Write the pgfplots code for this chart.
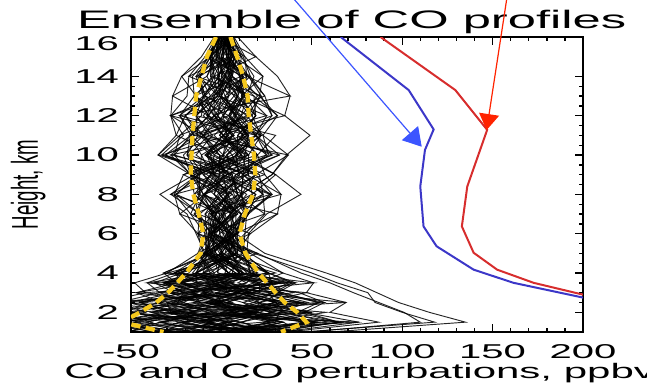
\documentclass[border=0pt]{standalone}
\usepackage{pgfplots}
\pgfplotsset{compat=1.18}
\usepackage{pgfplotstable}
\usetikzlibrary{arrows.meta}
\usepackage{fontspec}
\setmainfont{Liberation Sans}[FakeStretch=2.0]
\newfontfamily\plainsans{Liberation Sans}
\definecolor{ygold}{RGB}{245,200,30}
\definecolor{curvered}{RGB}{215,45,45}
\definecolor{curveblue}{RGB}{60,55,200}
\definecolor{arrblue}{RGB}{60,85,255}
\definecolor{arrred}{RGB}{255,35,0}

\pgfplotstableread{
h p1 p2 p3 p4 p5 p6 p7 p8 p9 p10 p11 p12 p13 p14 p15 p16 p17 p18 p19 p20 p21 p22 p23 p24 p25 p26 p27 p28 p29 p30 p31 p32 p33 p34 p35 p36 p37 p38 p39 p40
1 15 -24 15 30 -21 12 -15 48 6 -36 9 21 -18 -15 21 36 -24 18 -15 24 -51 15 27 -9 60 -12 30 -42 3 -6 39 -33 45 12 -30 9 3 33 -39 0
1.5 0 -61 46 65 -4 -11 -49 110 34 -72 -15 53 4 -42 4 87 -53 49 4 4 -38 -8 65 -34 135 11 11 -84 30 -34 23 -19 118 -8 -61 34 -23 76 -23 27
2 21 -28 14 42 -28 18 -21 101 7 -42 14 28 -25 -14 28 60 -25 21 -18 28 -60 18 32 -7 115 -18 35 -53 4 -4 49 -39 100 18 -32 7 7 46 -49 0
2.5 -3 -45 33 54 0 -6 -36 87 30 -57 -9 45 0 -30 3 69 -45 36 3 3 -33 -3 48 -27 98 6 12 -66 21 -24 21 -12 85 -9 -51 30 -15 57 -21 18
3 16 -21 13 29 -18 10 -13 73 8 -34 8 18 -16 -8 18 47 -21 13 -16 21 -47 16 26 -8 86 -10 29 -42 3 -5 34 -29 81 10 -26 8 3 31 -34 -3
3.5 0 -32 28 39 -2 -7 -30 60 21 -41 -9 32 2 -23 0 51 -32 28 5 5 -25 -5 37 -23 74 7 9 -48 18 -21 18 -12 64 -5 -37 21 -14 41 -14 14
4 14 -18 6 26 -16 12 -14 44 4 -26 8 16 -14 -4 12 34 -14 12 -14 18 -32 10 16 -10 58 -10 20 -30 -2 -6 26 -24 50 10 -22 4 4 26 -26 2
5 5 -8 9 12 -7 -3 -7 20 -6 2 -8 12 0 -13 5 16 8 -1 7 -10 -5 6 1 8 24 -8 7 -13 -4 8 -5 4 18 0 -9 14 -9 12 -9 5
6 2 -1 9 5 -7 -6 9 -4 -8 13 6 -4 7 -9 3 -6 16 -7 4 -13 8 5 -7 4 8 -5 -6 6 3 6 -13 9 -4 1 -5 15 -14 7 -3 -1
7 -9 14 11 2 0 -12 13 -3 -13 24 -6 9 15 -17 -3 1 31 -7 7 -23 11 -5 -5 14 8 -15 5 5 0 15 -12 14 -5 -4 1 25 -19 6 5 -1
8 -2 7 23 -9 11 -25 6 9 -10 23 3 1 11 -12 -15 9 33 -1 19 -26 3 4 -13 27 -1 -9 -4 17 -10 28 -28 11 4 -15 12 44 -34 -4 14 -10
9 8 4 9 -1 12 -13 -8 5 3 21 -4 10 28 -12 -17 6 24 12 1 -21 19 -6 -6 -4 14 -4 -1 15 -17 19 -13 12 -10 3 -17 30 -15 1 -4 5
10 25 -9 -26 8 20 11 -31 -8 32 -6 -6 8 36 9 -21 3 -1 26 -14 6 37 -11 1 -33 20 3 -1 15 -28 -4 15 -8 -18 28 -35 11 9 1 -19 13
11 12 1 -23 15 9 3 -17 1 19 7 -17 19 49 1 -10 14 -10 23 -5 -4 23 -18 12 -21 11 12 -12 22 -15 6 6 4 -7 19 -25 -1 22 -10 -13 15
12 19 -10 -11 4 19 11 -23 -8 25 -4 -7 8 35 10 -20 5 1 14 -14 7 31 -7 4 -28 19 1 -4 11 -23 -2 16 -4 -14 28 -28 8 17 -2 -20 4
13 9 -1 -10 12 18 0 -15 4 14 4 -14 14 38 0 -9 13 -5 22 -2 2 21 -15 12 -19 8 9 -10 20 -10 7 7 -4 -2 24 -27 -1 11 -9 -6 9
14 14 -6 -12 12 6 6 -16 -2 18 6 -5 4 31 5 -13 4 2 15 -8 -2 23 -4 3 -18 12 0 -1 10 -14 -2 11 5 -4 16 -22 6 14 1 -12 2
15 7 1 -6 4 9 0 -7 3 11 -1 -6 9 19 0 -6 7 -3 8 -2 6 13 -6 5 -9 4 5 -3 11 -7 4 3 1 -5 12 -11 3 6 -2 -4 6
16 6 1 -2 5 4 3 -3 2 5 0 -2 3 9 3 -1 2 -1 7 0 3 7 -3 4 -3 4 1 -1 6 -2 3 2 2 -2 6 -4 1 4 -1 -1 4
}\prof

\pgfplotstableread{
h q1 q2 q3 q4 q5 q6 q7 q8 q9 q10 q11 q12 q13 q14 q15 q16 q17 q18 q19 q20 q21 q22 q23 q24 q25 q26 q27 q28 q29 q30
1 -51 15 27 -9 60 -12 30 -42 3 -6 39 -33 45 12 -30 9 3 33 -39 0 15 -24 15 30 -21 12 -15 48 6 -36
1.5 -34 68 11 11 -84 30 -34 23 -19 59 -8 -61 34 -23 76 -23 27 0 -61 46 65 -4 -11 -49 55 34 -72 -15 53 4
2 21 -18 28 -60 18 32 -7 58 -18 35 -53 4 -4 49 -39 50 18 -32 7 7 46 -49 0 21 -28 14 42 -28 18 -21
2.5 12 -66 21 -24 21 -12 43 -9 -51 30 -15 57 -21 18 -3 -45 33 54 0 -6 -36 44 30 -57 -9 45 0 -30 3 69
3 -8 18 47 -21 13 -16 21 -47 16 26 -8 43 -10 29 -42 3 -5 34 -29 40 10 -26 8 3 31 -34 -3 16 -21 13
3.5 -21 18 -12 35 -5 -37 21 -14 41 -14 14 0 -32 28 39 -2 -7 -30 33 21 -41 -9 32 2 -23 0 51 -32 28 5
4 -26 8 16 -14 -4 12 34 -14 12 -14 18 -32 10 16 -10 30 -10 20 -30 -2 -6 26 -24 25 10 -22 4 4 26 -26
5 0 -9 14 -9 12 -9 5 5 -8 9 12 -7 -3 -7 20 -6 2 -8 12 0 -13 5 16 8 -1 7 -10 -5 6 1
6 -6 9 -4 -8 13 6 -4 7 -9 3 -6 16 -7 4 -13 8 5 -7 4 8 -5 -6 6 3 6 -13 9 -4 1 -5
7 6 5 -1 -9 14 11 2 0 -12 13 -3 -13 24 -6 9 15 -17 -3 1 31 -7 7 -23 11 -5 -5 14 8 -15 5
8 -9 11 -25 6 9 -10 23 3 1 11 -12 -15 9 33 -1 19 -26 3 4 -13 27 -1 -9 -4 17 -10 28 -28 11 4
9 10 28 -12 -17 6 24 12 1 -21 19 -6 -6 -4 14 -4 -1 15 -17 19 -13 12 -10 3 -17 30 -15 1 -4 5 8
10 6 37 -11 1 -33 20 3 -1 15 -28 -4 15 -8 -18 28 -35 11 9 1 -19 13 25 -9 -26 8 20 11 -31 -8 32
11 22 -15 6 6 4 -7 19 -25 -1 22 -10 -13 15 12 1 -23 15 9 3 -17 1 19 7 -17 19 30 1 -10 14 -10
12 -8 25 -4 -7 8 35 10 -20 5 1 14 -14 7 31 -7 4 -28 19 1 -4 11 -23 -2 16 -4 -14 28 -28 8 17
13 -4 -2 24 -27 -1 11 -9 -6 9 9 -1 -10 12 18 0 -15 4 14 4 -14 14 38 0 -9 13 -5 22 -2 2 21
14 4 2 15 -8 -2 23 -4 3 -18 12 0 -1 10 -14 -2 11 5 -4 16 -22 6 14 1 -12 2 14 -6 -12 12 6
15 3 6 -2 -4 6 7 1 -6 4 9 0 -7 3 11 -1 -6 9 19 0 -6 7 -3 8 -2 6 13 -6 5 -9 4
16 -3 4 -3 4 1 -1 6 -2 3 2 2 -2 6 -4 1 4 -1 -1 4 6 1 -2 5 4 3 -3 2 5 0 -2
}\proftwo

\begin{document}
\begin{tikzpicture}
\path[use as bounding box] (-98.25pt,-40.5pt) rectangle (387pt,249pt);
\node[anchor=base west, text={rgb,255:red,110;green,120;blue,245}, font=\fontsize{19}{19}\selectfont, inner sep=0pt] at (-82pt,250pt) {Reference};
\begin{axis}[
  at={(0pt,0pt)}, anchor=south west,
  scale only axis, width=339pt, height=221.25pt,
  xmin=-50, xmax=200, ymin=1, ymax=16,
  xtick={-50,0,50,100,150,200}, ytick={2,4,6,8,10,12,14},
  extra y ticks={16},
  extra y tick style={yticklabel style={yshift=-5pt}},
  minor x tick num=4, minor y tick num=3,
  tick align=inside, xtick pos=both, ytick pos=both,
  major tick length=6pt, minor tick length=3pt,
  axis line style={line width=2pt},
  every tick/.style={black, line width=1pt},
  /pgf/number format/assume math mode=true,
  tick label style={font=\fontsize{15}{15}\selectfont},
  xticklabel style={anchor=base, yshift=-19.5pt},
  yticklabel style={anchor=east, xshift=-5.5pt},
  title={Ensemble of CO profiles},
  title style={font=\fontsize{19}{19}\selectfont, at={(rel axis cs:0.5,1)}, anchor=base, yshift=0.75pt, xshift=-4pt, inner sep=0pt},
  xlabel={CO and CO perturbations, ppbv},
  xlabel style={font=\fontsize{15.75}{15.75}\selectfont, at={(rel axis cs:0.5,0)}, anchor=base, yshift=-34.5pt, xshift=2pt, inner sep=0pt},
  ylabel={\plainsans\fontsize{14}{14}\selectfont\scalebox{1}[2.0]{Height, km}},
  ylabel style={at={(rel axis cs:0,0.5)}, anchor=center, yshift=77pt},
]
\pgfplotsinvokeforeach{1,...,40}{
  \addplot[black, line width=0.7pt, opacity=0.85] table[x=p#1, y=h]{\prof};
}
\pgfplotsinvokeforeach{1,...,30}{
  \addplot[black, line width=0.7pt, opacity=0.85] table[x=q#1, y=h]{\proftwo};
}
% yellow envelope (mean +/- std)
\addplot[ygold, line width=3.2pt, dash pattern=on 7pt off 4pt] coordinates {
(-3,16) (-8,15) (-11,14) (-14,13) (-15,12) (-16,11) (-16.5,10) (-17,9) (-15.5,8) (-12.5,7) (-10,6) (-11.5,5) (-19.5,4) (-24.5,3.5) (-29.5,3) (-36,2.5) (-45,2) (-55,1.5) (-32,1)
};
\addplot[ygold, line width=3.2pt, dash pattern=on 7pt off 4pt] coordinates {
(5,16) (8.7,15) (12,14) (14.5,13) (15.1,12) (16.5,11) (18,10) (18.8,9) (17.5,8) (13,7) (10,6) (13.3,5) (20.5,4) (25.3,3.5) (30,3) (35,2.5) (42,2) (47,1.5) (33,1)
};
% reference (blue) and perturbed (red) CO
\addplot[curveblue, line width=1.5pt] coordinates {
(66,16) (103.6,13.3) (117.4,11.3) (112.6,10.26) (110,8.4) (111.8,6.37) (119,5.36) (139.5,4.17) (161.6,3.5) (200,2.75)
};
\addplot[curvered, line width=1.5pt] coordinates {
(88,16) (129.4,13.3) (147,11.28) (136,8.4) (133,6.37) (139.5,5.03) (152.5,4.17) (172.7,3.5) (200,2.9)
};
\coordinate (bs) at (axis cs:35.7,18.4);
\coordinate (bt) at (axis cs:110.8,10.42);
\coordinate (rs) at (axis cs:158.6,18.4);
\coordinate (rt) at (axis cs:146.7,11.27);
\end{axis}
\draw[arrblue, line width=0.9pt, -{Triangle[length=13.5pt,width=16pt]}] (bs) -- (bt);
\draw[arrred, line width=0.9pt, -{Triangle[length=12pt,width=15pt]}] (rs) -- (rt);
\end{tikzpicture}
\end{document}
